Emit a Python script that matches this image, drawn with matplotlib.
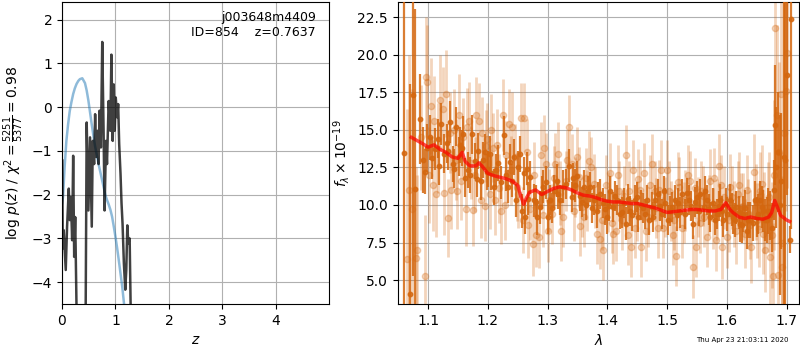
import numpy as np
import matplotlib
matplotlib.use("Agg")
import matplotlib.pyplot as plt

# ---------------- left panel: p(z) ----------------
z_chi = [0.006, 0.013, 0.032, 0.070, 0.095, 0.127, 0.146, 0.165, 0.190, 0.209, 0.228, 0.247,
         0.272, 0.335, 0.399, 0.443, 0.462, 0.494, 0.525, 0.557, 0.576, 0.601, 0.620, 0.639,
         0.665, 0.684, 0.703, 0.728, 0.753, 0.778, 0.797, 0.823, 0.842, 0.873, 0.905, 0.924,
         0.949, 0.968, 0.987, 1.006, 1.032, 1.051, 1.070, 1.095, 1.114, 1.133, 1.158, 1.184,
         1.203, 1.222, 1.241, 1.266, 1.285]
logp_chi = [-1.22, -3.23, -2.81, -3.72, -2.73, -1.86, -2.58, -2.05, -3.04, -1.11, -3.42, -2.51,
            -4.6, -6.0, -6.0, -4.6, -0.35, -2.36, -0.69, -2.73, -0.77, -1.30, -0.16, -1.14,
            -0.54, -1.30, -0.08, -0.92, 1.49, -0.54, -2.36, -0.77, -1.30, 0.14, -0.54, 1.20,
            -0.77, 0.52, -0.54, 0.22, -0.23, 0.07, -0.84, -1.52, -2.2, -2.66, -3.57, -4.17,
            -3.72, -2.70, -3.11, -3.0, -4.6]

z_prior = [0.000, 0.019, 0.050, 0.082, 0.115, 0.146, 0.177, 0.209, 0.240, 0.272, 0.305, 0.335,
           0.380, 0.430, 0.462, 0.494, 0.525, 0.557, 0.589, 0.620, 0.652, 0.684, 0.715, 0.747,
           0.780, 0.810, 0.842, 0.873, 0.905, 0.937, 0.968, 1.000, 1.032, 1.063, 1.095, 1.127,
           1.170]
logp_prior = [-2.2, -2.05, -1.35, -0.77, -0.38, -0.08, 0.12, 0.30, 0.43, 0.53, 0.60, 0.64,
              0.66, 0.55, 0.38, 0.15, -0.12, -0.40, -0.66, -0.90, -1.10, -1.30, -1.47, -1.65,
              -1.83, -2.0, -2.12, -2.22, -2.34, -2.5, -2.72, -2.96, -3.22, -3.5, -3.8, -4.1,
              -4.6]

# ---------------- right panel: spectrum ----------------
lam_dark = [1.060, 1.070, 1.074, 1.078, 1.087, 1.092, 1.098, 1.103, 1.111, 1.116, 1.122, 1.126,
            1.131, 1.137, 1.141, 1.146, 1.151, 1.156, 1.162, 1.166, 1.174, 1.179, 1.184, 1.188,
            1.195, 1.201, 1.206, 1.211, 1.217, 1.227, 1.233, 1.237, 1.243, 1.247, 1.254, 1.260,
            1.265, 1.271, 1.277, 1.283, 1.287, 1.293, 1.300, 1.304, 1.310, 1.315, 1.321, 1.326,
            1.336, 1.340, 1.346, 1.350, 1.355, 1.361, 1.365, 1.371, 1.377, 1.382, 1.388, 1.393,
            1.399, 1.405, 1.410, 1.416, 1.421, 1.427, 1.432, 1.438, 1.446, 1.452, 1.457, 1.463,
            1.469, 1.474, 1.480, 1.485, 1.491, 1.497, 1.502, 1.508, 1.513, 1.519, 1.525, 1.530,
            1.536, 1.544, 1.550, 1.555, 1.561, 1.566, 1.572, 1.577, 1.583, 1.589, 1.594, 1.600,
            1.605, 1.611, 1.616, 1.622, 1.627, 1.633, 1.639, 1.647, 1.652, 1.658, 1.663, 1.669,
            1.675, 1.680, 1.686, 1.691, 1.695, 1.700, 1.705, 1.708,
            1.095, 1.107, 1.119, 1.134, 1.144, 1.153, 1.159, 1.170, 1.182, 1.192, 1.198, 1.203,
            1.214, 1.222, 1.230, 1.240, 1.250, 1.257, 1.262, 1.268, 1.280, 1.290, 1.297, 1.307,
            1.318, 1.330, 1.343, 1.358, 1.368, 1.374, 1.385, 1.396, 1.402, 1.413, 1.424, 1.435,
            1.442, 1.449, 1.460, 1.466, 1.477, 1.488, 1.494, 1.505, 1.516, 1.522, 1.533, 1.540,
            1.547, 1.553, 1.564, 1.570, 1.580, 1.586, 1.592, 1.598, 1.608, 1.614, 1.620, 1.625,
            1.630, 1.636, 1.643, 1.650, 1.655, 1.661, 1.667, 1.672, 1.678, 1.683, 1.689, 1.698]
flux_dark = [13.46, 4.07, 17.3, 11.07, 15.74, 13.0, 13.8, 14.5, 13.7, 14.4, 15.4, 13.4,
             14.1, 15.5, 12.7, 15.2, 13.2, 13.8, 11.8, 12.3, 14.7, 12.95, 13.6, 11.6,
             13.5, 12.4, 12.1, 11.2, 12.8, 14.65, 11.2, 12.85, 13.2, 10.3, 13.4, 12.1,
             12.4, 11.85, 10.3, 9.2, 9.85, 11.2, 9.2, 10.3, 10.9, 11.6, 10.3, 11.2,
             12.6, 10.5, 11.3, 11.9, 10.6, 11.2, 9.97, 11.2, 10.3, 9.6, 10.75, 10.1,
             9.2, 10.95, 9.86, 10.3, 9.4, 10.1, 8.76, 9.6, 10.3, 9.2, 9.97, 9.4,
             8.98, 9.86, 10.3, 10.75, 9.4, 10.1, 8.98, 9.86, 10.3, 10.1, 10.75, 9.4,
             10.3, 8.76, 10.5, 10.75, 9.86, 10.3, 9.2, 10.1, 9.4, 10.3, 8.98, 9.4,
             10.3, 9.2, 9.86, 8.76, 9.4, 8.3, 8.98, 10.3, 9.4, 9.86, 8.98, 9.6,
             8.5, 15.3, 13.5, 11.6, 13.2, 18.65, 7.7, 22.4,
             12.2, 13.1, 12.6, 13.6, 12.4, 14.0, 14.7, 12.0, 11.7, 13.0, 12.2, 13.4,
             12.3, 11.5, 12.0, 11.6, 12.5, 9.6, 9.2, 10.4, 10.2, 10.8, 11.5, 9.8,
             10.7, 11.4, 11.8, 10.2, 10.9, 9.8, 10.5, 9.7, 9.9, 10.6, 9.5, 10.4,
             9.3, 10.5, 9.8, 10.3, 9.2, 9.9, 10.9, 9.6, 9.3, 9.5, 10.8, 9.9,
             10.2, 9.6, 10.9, 9.7, 9.0, 9.9, 9.6, 10.0, 9.7, 9.0, 9.5, 8.7,
             9.8, 9.0, 8.8, 9.2, 10.3, 9.6, 9.0, 9.3, 11.0, 12.5, 10.0, 13.0]
err_dark = [14.0, 14.0, 12.0, 12.0, 3.0, 2.2, 1.6, 1.5, 1.4, 1.3, 1.4, 1.3,
            1.3, 1.4, 1.2, 1.3, 1.3, 1.2, 1.3, 1.2, 1.3, 1.2, 1.2, 1.3,
            1.2, 1.2, 1.1, 1.2, 1.2, 1.3, 1.1, 1.2, 1.2, 1.1, 1.2, 1.1,
            1.1, 1.1, 1.1, 1.2, 1.1, 1.1, 1.1, 1.0, 1.1, 1.1, 1.0, 1.1,
            1.1, 1.0, 1.1, 1.0, 1.0, 1.1, 1.0, 1.0, 1.0, 1.1, 1.0, 1.0,
            1.1, 1.0, 1.0, 1.0, 1.0, 1.0, 1.1, 1.0, 1.0, 1.0, 1.0, 1.0,
            1.0, 1.0, 1.0, 1.0, 1.0, 1.0, 1.0, 1.0, 1.0, 1.0, 1.0, 1.0,
            1.0, 1.0, 1.1, 1.0, 1.0, 1.0, 1.0, 1.0, 1.0, 1.1, 1.1, 1.1,
            1.1, 1.1, 1.1, 1.2, 1.2, 1.2, 1.2, 1.3, 1.3, 1.4, 1.4, 1.5,
            1.6, 4.0, 4.0, 4.5, 14.0, 8.0, 0.9, 14.0,
            1.5, 1.4, 1.3, 1.3, 1.3, 1.2, 1.2, 1.2, 1.2, 1.2, 1.2, 1.2,
            1.1, 1.1, 1.1, 1.1, 1.1, 1.1, 1.1, 1.1, 1.1, 1.1, 1.1, 1.0,
            1.0, 1.0, 1.0, 1.0, 1.0, 1.0, 1.0, 1.0, 1.0, 1.0, 1.0, 1.0,
            1.0, 1.0, 1.0, 1.0, 1.0, 1.0, 1.0, 1.0, 1.0, 1.0, 1.0, 1.0,
            1.0, 1.0, 1.0, 1.0, 1.0, 1.0, 1.0, 1.1, 1.1, 1.1, 1.1, 1.2,
            1.2, 1.2, 1.2, 1.3, 1.3, 1.4, 1.5, 1.6, 2.0, 4.0, 6.0, 12.0]

lam_light = [1.065, 1.068, 1.073, 1.080, 1.082, 1.095, 1.096, 1.099, 1.105, 1.110, 1.114, 1.120,
             1.125, 1.130, 1.133, 1.138, 1.143, 1.148, 1.152, 1.158, 1.163, 1.168, 1.172, 1.176,
             1.181, 1.186, 1.190, 1.195, 1.199, 1.203, 1.208, 1.212, 1.218, 1.222, 1.225, 1.230,
             1.235, 1.240, 1.245, 1.250, 1.256, 1.260, 1.265, 1.270, 1.275, 1.280, 1.285, 1.289,
             1.294, 1.298, 1.303, 1.308, 1.313, 1.318, 1.322, 1.325, 1.330, 1.336, 1.341, 1.346,
             1.352, 1.357, 1.361, 1.366, 1.372, 1.377, 1.383, 1.388, 1.393, 1.398, 1.404, 1.410,
             1.414, 1.420, 1.425, 1.432, 1.437, 1.440, 1.446, 1.452, 1.457, 1.462, 1.468, 1.474,
             1.479, 1.484, 1.490, 1.496, 1.500, 1.506, 1.509, 1.515, 1.520, 1.525, 1.530, 1.538,
             1.543, 1.548, 1.552, 1.557, 1.562, 1.567, 1.572, 1.576, 1.581, 1.587, 1.592, 1.596,
             1.600, 1.606, 1.612, 1.618, 1.624, 1.630, 1.635, 1.640, 1.645, 1.650, 1.656, 1.660,
             1.664, 1.668, 1.672, 1.677, 1.681, 1.686, 1.690, 1.693, 1.696, 1.699, 1.700,
             1.088, 1.101, 1.108, 1.117, 1.127, 1.136, 1.146, 1.155, 1.165, 1.178, 1.188, 1.197,
             1.206, 1.215, 1.228, 1.238, 1.248, 1.258, 1.268, 1.278, 1.292, 1.300, 1.311, 1.320,
             1.333, 1.344, 1.349, 1.355, 1.364, 1.369, 1.380, 1.391, 1.401, 1.407, 1.417, 1.428,
             1.434, 1.443, 1.449, 1.455, 1.465, 1.471, 1.482, 1.487, 1.493, 1.503, 1.512, 1.518,
             1.528, 1.535, 1.546, 1.555, 1.560, 1.570, 1.579, 1.584, 1.590, 1.603, 1.609, 1.615,
             1.621, 1.627, 1.633, 1.638, 1.648, 1.653, 1.658, 1.662, 1.670, 1.675, 1.679, 1.684,
             1.688, 1.692]
flux_light = [6.4, 11.0, 9.75, 6.5, 7.0, 5.3, 18.5, 18.2, 16.6, 15.6, 10.7, 17.0,
              16.4, 17.4, 9.15, 11.0, 15.0, 10.9, 16.0, 14.5, 9.7, 15.6, 12.8, 9.65,
              16.0, 15.6, 14.8, 9.9, 14.4, 10.7, 13.8, 10.3, 11.1, 9.6, 16.0, 13.3,
              15.4, 15.2, 13.2, 10.7, 15.8, 15.8, 13.5, 9.75, 7.4, 8.0, 7.9, 13.3,
              13.8, 12.7, 10.3, 9.4, 12.7, 13.4, 8.3, 9.2, 11.6, 15.2, 12.7, 11.2,
              11.85, 9.86, 9.2, 10.3, 12.5, 11.4, 8.1, 7.75, 7.0, 11.3, 12.1, 8.1,
              8.3, 10.95, 8.98, 13.3, 10.95, 7.2, 8.5, 11.7, 7.2, 12.1, 9.2, 12.7,
              10.95, 8.5, 12.3, 9.86, 12.3, 9.6, 8.0, 6.6, 11.2, 8.5, 10.3, 11.6,
              5.9, 7.2, 9.86, 10.95, 9.2, 7.9, 11.6, 9.1, 7.7, 12.6, 7.2, 10.5,
              7.9, 11.2, 9.4, 10.75, 9.86, 8.1, 9.4, 7.2, 12.2, 8.98, 10.95, 8.1,
              7.0, 9.86, 6.55, 5.3, 21.75, 5.35, 17.4, 5.9, 14.8, 17.6, 20.1,
              14.5, 12.0, 11.3, 13.8, 10.8, 14.8, 13.0, 11.6, 15.2, 12.0, 10.3, 13.9,
              15.0, 14.0, 10.0, 12.3, 11.2, 9.0, 8.7, 12.0, 9.3, 8.3, 11.8, 10.8,
              13.0, 9.6, 13.2, 8.6, 11.8, 12.9, 10.5, 9.0, 10.2, 8.8, 12.0, 10.6,
              8.0, 12.3, 9.6, 11.0, 8.3, 11.3, 9.8, 11.0, 8.5, 10.9, 9.0, 11.5,
              9.5, 12.0, 11.1, 8.8, 10.6, 10.0, 11.8, 9.7, 11.3, 9.0, 10.5, 8.3,
              11.3, 9.9, 11.0, 8.7, 10.2, 8.4, 11.4, 9.5, 10.5, 8.0, 12.0, 16.0,
              13.5, 7.5]
err_light = [10.0, 9.0, 8.0, 6.0, 5.0, 4.0, 4.0, 3.8, 3.2, 3.0, 2.8, 3.0,
             2.8, 2.9, 2.6, 2.6, 2.7, 2.5, 2.7, 2.6, 2.4, 2.6, 2.4, 2.4,
             2.5, 2.5, 2.4, 2.3, 2.4, 2.3, 2.3, 2.3, 2.3, 2.2, 2.4, 2.3,
             2.3, 2.3, 2.2, 2.2, 2.3, 2.3, 2.2, 2.1, 2.1, 2.1, 2.1, 2.2,
             2.2, 2.1, 2.1, 2.0, 2.1, 2.1, 2.0, 2.0, 2.0, 2.1, 2.0, 2.0,
             2.0, 2.0, 2.0, 2.0, 2.0, 2.0, 2.0, 2.0, 2.0, 2.0, 2.0, 2.0,
             2.0, 2.0, 2.0, 2.0, 2.0, 2.0, 2.0, 2.0, 2.0, 2.0, 2.0, 2.0,
             2.0, 2.0, 2.0, 2.0, 2.0, 2.0, 2.0, 2.0, 2.0, 2.0, 2.0, 2.0,
             2.1, 2.0, 2.0, 2.0, 2.0, 2.0, 2.1, 2.0, 2.1, 2.1, 2.1, 2.1,
             2.1, 2.2, 2.2, 2.2, 2.3, 2.3, 2.3, 2.4, 2.5, 2.5, 2.6, 2.7,
             2.8, 3.0, 3.2, 3.5, 8.0, 5.0, 7.0, 6.0, 9.0, 8.0, 9.0,
             3.5, 3.2, 3.0, 3.0, 2.8, 2.7, 2.7, 2.6, 2.6, 2.5, 2.5, 2.4,
             2.4, 2.4, 2.3, 2.3, 2.3, 2.2, 2.2, 2.2, 2.1, 2.1, 2.1, 2.1,
             2.0, 2.0, 2.0, 2.0, 2.0, 2.0, 2.0, 2.0, 2.0, 2.0, 2.0, 2.0,
             2.0, 2.0, 2.0, 2.0, 2.0, 2.0, 2.0, 2.0, 2.0, 2.0, 2.0, 2.0,
             2.0, 2.0, 2.0, 2.0, 2.0, 2.0, 2.0, 2.0, 2.0, 2.1, 2.1, 2.2,
             2.2, 2.2, 2.3, 2.3, 2.5, 2.5, 2.6, 2.7, 3.0, 3.5, 5.0, 6.0,
             6.0, 6.0]

lam_model = [1.072, 1.090, 1.100, 1.110, 1.120, 1.130, 1.140, 1.150, 1.157, 1.162, 1.170, 1.180,
             1.185, 1.190, 1.200, 1.210, 1.220, 1.230, 1.240, 1.250, 1.255, 1.260, 1.265, 1.270,
             1.280, 1.290, 1.300, 1.310, 1.320, 1.330, 1.340, 1.350, 1.360, 1.370, 1.380, 1.390,
             1.400, 1.410, 1.420, 1.430, 1.440, 1.450, 1.460, 1.470, 1.480, 1.490, 1.500, 1.510,
             1.520, 1.530, 1.540, 1.550, 1.560, 1.570, 1.580, 1.590, 1.598, 1.605, 1.610, 1.620,
             1.630, 1.640, 1.650, 1.660, 1.670, 1.675, 1.680, 1.685, 1.690, 1.700, 1.705]
flux_model = [14.5, 14.1, 13.85, 14.0, 13.7, 13.5, 13.2, 13.1, 13.5, 12.9, 12.6, 12.6,
              12.8, 12.6, 12.1, 11.95, 11.85, 11.75, 11.6, 11.3, 10.6, 10.05, 10.5, 10.85,
              11.0, 10.7, 10.9, 11.1, 11.2, 11.15, 11.0, 10.8, 10.65, 10.6, 10.5, 10.35,
              10.25, 10.2, 10.2, 10.15, 10.1, 10.1, 10.0, 9.9, 9.8, 9.65, 9.5, 9.55,
              9.6, 9.65, 9.7, 9.7, 9.65, 9.6, 9.6, 9.7, 10.15, 9.7, 9.5, 9.2,
              9.1, 9.2, 9.1, 9.05, 9.2, 9.5, 10.3, 9.8, 9.3, 9.0, 8.9]

title_text = "j003648m4409\nID=854    z=0.7637"
timestamp = "Thu Apr 23 21:03:11 2020"

col = "#d4670f"

fig = plt.figure(figsize=(8, 3.5), dpi=100)
ax1 = fig.add_axes([0.0775, 0.131, 0.334, 0.863])
ax2 = fig.add_axes([0.497, 0.131, 0.502, 0.863])

ax1.plot(z_prior, logp_prior, color="tab:blue", alpha=0.5, lw=1.8)
ax1.plot(z_chi, logp_chi, color="k", alpha=0.75, lw=1.8)
ax1.set_xlim(0, 5.0)
ax1.set_ylim(-4.5, 2.4)
ax1.set_xticks([0, 1, 2, 3, 4])
ax1.set_yticks([-4, -3, -2, -1, 0, 1, 2])
ax1.grid(True)
ax1.set_xlabel(r"$z$")
ax1.set_ylabel(r"$\log\,p(z)$ / $\chi^2=\frac{5251}{5377}=0.98$")
ax1.text(0.95, 0.97, title_text, transform=ax1.transAxes, ha="right", va="top",
         fontsize=9, multialignment="right")

ax2.errorbar(lam_light, flux_light, yerr=err_light, fmt="o", color=col, alpha=0.28,
             ms=4.5, lw=2, elinewidth=2, capsize=0, zorder=2)
ax2.errorbar(lam_dark, flux_dark, yerr=err_dark, fmt="o", color=col, alpha=0.85,
             ms=3.2, lw=1.6, elinewidth=1.6, capsize=0, zorder=3)
ax2.plot(lam_model, flux_model, color="red", alpha=0.7, lw=2.5, zorder=4)
ax2.set_xlim(1.049, 1.721)
ax2.set_ylim(3.4, 23.5)
ax2.set_xticks([1.1, 1.2, 1.3, 1.4, 1.5, 1.6, 1.7])
ax2.set_yticks([5.0, 7.5, 10.0, 12.5, 15.0, 17.5, 20.0, 22.5])
ax2.set_yticklabels(["5.0", "7.5", "10.0", "12.5", "15.0", "17.5", "20.0", "22.5"])
ax2.grid(True)
ax2.set_xlabel(r"$\lambda$")
ax2.set_ylabel(r"$f_\lambda\times10^{-19}$")

fig.text(0.928, 0.028, timestamp, ha="center", va="center", fontsize=5)

fig.savefig("out.png", dpi=100)
